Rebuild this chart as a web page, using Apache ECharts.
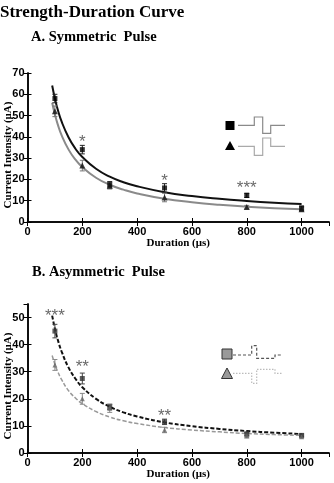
<!DOCTYPE html>
<html>
<head>
<meta charset="utf-8">
<script src="https://cdn.jsdelivr.net/npm/echarts@6/dist/echarts.min.js"></script>
<style>
html, body { margin: 0; padding: 0; background: #fff; }
#chart { width: 334px; height: 483px; }
</style>
</head>
<body>
<div id="chart"></div>
<script>
// pulse durations (us)
var durations = [100, 200, 300, 500, 800, 1000]

// A. symmetric pulse
var symSquare = [58, 34, 17.5, 16, 12.5, 6.5]
var symSquareErr = [2, 2, 1.5, 2, 1, 1]
var symTri = [52, 26.5, 17, 11.5, 7, 6]
var symTriErr = [2.5, 2.5, 1.5, 2, 0.8, 1]

// B. asymmetric pulse
var asymSquare = [45, 27.5, 17, 11.5, 7, 6.5]
var asymSquareErr = [2.5, 2, 1, 1, 0.7, 0.5]
var asymTri = [32.5, 20, 16.5, 8.5, 6.5, 6]
var asymTriErr = [2, 2, 1.5, 1, 1, 0.5]

// fitted curves
var fitX = [90, 100, 110, 125, 150, 175, 200, 250, 300, 350, 400, 500, 600, 700, 800, 900, 1000]
var symSquareFit = [64.1, 58, 53, 47, 39.7, 34.4, 30.5, 25, 21.3, 18.7, 16.8, 14, 12.2, 10.9, 9.9, 9.1, 8.5]
var symTriFit = [56, 50.5, 46, 40.6, 34, 29.3, 25.8, 20.8, 17.5, 15.2, 13.4, 10.9, 9.3, 8.1, 7.2, 6.5, 6]
var asymSquareFit = [50.7, 45.9, 42, 37.3, 31.5, 27.4, 24.3, 20, 17.1, 15, 13.5, 11.3, 9.9, 8.9, 8.1, 7.5, 7]
var asymTriFit = [36, 32.8, 30.1, 27, 23, 20.3, 18.2, 15.3, 13.3, 11.9, 10.9, 9.4, 8.5, 7.8, 7.2, 6.8, 6.5]

// significance marks [duration, y, text]
var symStars = [[200, 37.6, '*'], [500, 19, '*'], [800, 16, '***']]
var asymStars = [[100, 50.5, '***'], [200, 31.5, '**'], [500, 13.5, '**']]

var chart = echarts.init(document.getElementById('chart'))

var labelFont = { color: '#000', fontFamily: 'Liberation Sans', fontWeight: 'bold', fontSize: 11 }
var nameFont = { color: '#000', fontFamily: 'Liberation Serif', fontWeight: 'bold', fontSize: 11 }

function xAxes(gi) {
  var base = {
    gridIndex: gi, type: 'value', min: 0, max: 1100, interval: 200,
    axisLine: { lineStyle: { color: '#000', width: 1.5 } },
    axisTick: { inside: true, length: 4, lineStyle: { color: '#000' } },
    splitLine: { show: false }
  }
  return [
    Object.assign({}, base, {
      position: 'bottom',
      axisLabel: Object.assign({ margin: 4, showMaxLabel: false, formatter: function (v) { return String(v) } }, labelFont),
      name: 'Duration (μs)', nameLocation: 'middle', nameGap: 16, nameMoveOverlap: false, nameTextStyle: nameFont
    }),
    Object.assign({}, base, { position: 'top', axisLabel: { show: false } })
  ]
}

function yAxes(gi, max) {
  var base = {
    gridIndex: gi, type: 'value', min: 0, max: max, interval: 10,
    axisLine: { lineStyle: { color: '#000', width: 1.5 } },
    axisTick: { inside: true, length: 4, lineStyle: { color: '#000' } },
    splitLine: { show: false }
  }
  return [
    Object.assign({}, base, {
      position: 'left',
      axisLabel: Object.assign({ margin: 3, showMaxLabel: max % 10 === 0 }, labelFont),
      name: 'Current Intensity (μA)', nameLocation: 'middle', nameGap: 14, nameMoveOverlap: false,
      nameTextStyle: Object.assign({ padding: [0, 15, 0, 0] }, nameFont)
    }),
    Object.assign({}, base, { position: 'right', axisLabel: { show: false } })
  ]
}

function fitLine(xi, yi, vals, color, width, dash) {
  return {
    type: 'line', xAxisIndex: xi, yAxisIndex: yi,
    data: fitX.map(function (x, i) { return [x, vals[i]] }),
    smooth: true, symbol: 'none',
    lineStyle: { color: color, width: width, type: dash || 'solid' },
    z: 2
  }
}

function points(xi, yi, vals, symbol, size, color) {
  return {
    type: 'scatter', xAxisIndex: xi, yAxisIndex: yi,
    data: durations.map(function (d, i) { return [d, vals[i]] }),
    symbol: symbol, symbolSize: size,
    itemStyle: { color: color },
    z: 4
  }
}

function errorBars(xi, yi, vals, errs, color) {
  return {
    type: 'custom', xAxisIndex: xi, yAxisIndex: yi,
    data: durations.map(function (d, i) { return [d, vals[i] - errs[i], vals[i] + errs[i]] }),
    encode: { x: 0, y: [1, 2] },
    renderItem: function (params, api) {
      var lo = api.coord([api.value(0), api.value(1)])
      var hi = api.coord([api.value(0), api.value(2)])
      var w = 2.5
      var st = { stroke: color, lineWidth: 1 }
      return {
        type: 'group',
        children: [
          { type: 'line', shape: { x1: lo[0], y1: lo[1], x2: hi[0], y2: hi[1] }, style: st },
          { type: 'line', shape: { x1: lo[0] - w, y1: lo[1], x2: lo[0] + w, y2: lo[1] }, style: st },
          { type: 'line', shape: { x1: hi[0] - w, y1: hi[1], x2: hi[0] + w, y2: hi[1] }, style: st }
        ]
      }
    },
    z: 3
  }
}

function stars(xi, yi, list) {
  return {
    type: 'scatter', xAxisIndex: xi, yAxisIndex: yi,
    data: list, symbolSize: 1,
    itemStyle: { color: 'rgba(0,0,0,0)' },
    label: {
      show: true, position: 'inside',
      formatter: function (p) { return p.data[2] },
      fontFamily: 'Liberation Sans', fontSize: 17, color: '#444'
    },
    z: 5
  }
}

var titleFont = { fontFamily: 'Liberation Serif', fontWeight: 'bold', color: '#000' }

var option = {
  animation: false,
  backgroundColor: '#fff',
  title: [
    { text: 'Strength-Duration Curve', left: 0, top: 4, padding: 0,
      textStyle: Object.assign({ fontSize: 17 }, titleFont) },
    { text: 'A. Symmetric  Pulse', left: 31, top: 30, padding: 0,
      textStyle: Object.assign({ fontSize: 14.5 }, titleFont) },
    { text: 'B. Asymmetric  Pulse', left: 32, top: 265, padding: 0,
      textStyle: Object.assign({ fontSize: 14.5 }, titleFont) }
  ],
  grid: [
    { left: 27.5, top: 73, width: 301.5, height: 149, containLabel: false, outerBoundsMode: 'none' },
    { left: 27.5, top: 304, width: 301.5, height: 149, containLabel: false, outerBoundsMode: 'none' }
  ],
  xAxis: xAxes(0).concat(xAxes(1)),
  yAxis: yAxes(0, 70).concat(yAxes(1, 55)),
  series: [
    fitLine(0, 0, symSquareFit, '#111', 2),
    fitLine(0, 0, symTriFit, '#8a8a8a', 2),
    errorBars(0, 0, symSquare, symSquareErr, '#222'),
    errorBars(0, 0, symTri, symTriErr, '#777'),
    points(0, 0, symSquare, 'rect', 5, '#000'),
    points(0, 0, symTri, 'triangle', 6, '#111'),
    stars(0, 0, symStars),

    fitLine(2, 2, asymSquareFit, '#111', 2, [4, 2]),
    fitLine(2, 2, asymTriFit, '#999', 1.5, [4, 2]),
    errorBars(2, 2, asymSquare, asymSquareErr, '#444'),
    errorBars(2, 2, asymTri, asymTriErr, '#888'),
    points(2, 2, asymSquare, 'rect', 5, '#333'),
    points(2, 2, asymTri, 'triangle', 5, '#666'),
    stars(2, 2, asymStars)
  ],
  // legend glyphs with the pulse shapes
  graphic: [
    { type: 'rect', shape: { x: 225.5, y: 121, width: 9, height: 9 }, style: { fill: '#000' } },
    { type: 'polyline', shape: { points: [[238, 125.3], [254.3, 125.3], [254.3, 117], [262.7, 117], [262.7, 133.3], [270.7, 133.3], [270.7, 125.3], [285, 125.3]] },
      style: { stroke: '#8a8a8a', lineWidth: 1.2, fill: null } },
    { type: 'polygon', shape: { points: [[225, 150], [235, 150], [230, 141]] }, style: { fill: '#000' } },
    { type: 'polyline', shape: { points: [[238, 146.3], [254.3, 146.3], [254.3, 155.3], [262.7, 155.3], [262.7, 138], [270.7, 138], [270.7, 146.3], [285, 146.3]] },
      style: { stroke: '#aaa', lineWidth: 1.2, fill: null } },

    { type: 'rect', shape: { x: 222, y: 349, width: 10, height: 10 }, style: { fill: '#999', stroke: '#333', lineWidth: 1 } },
    { type: 'polyline', shape: { points: [[233, 355], [251.7, 355], [251.7, 345.7], [256.7, 345.7], [256.7, 358.3], [275, 358.3], [275, 355], [282, 355]] },
      style: { stroke: '#555', lineWidth: 1.2, lineDash: [3, 2], fill: null } },
    { type: 'polygon', shape: { points: [[221.5, 378.5], [232.5, 378.5], [227, 368]] }, style: { fill: '#999', stroke: '#333', lineWidth: 1 } },
    { type: 'polyline', shape: { points: [[233, 373.3], [251.7, 373.3], [251.7, 383.3], [256.7, 383.3], [256.7, 369.3], [275, 369.3], [275, 373.3], [282, 373.3]] },
      style: { stroke: '#bbb', lineWidth: 1.2, lineDash: [1.5, 1.5], fill: null } }
  ]
}

chart.setOption(option)
</script>
</body>
</html>
